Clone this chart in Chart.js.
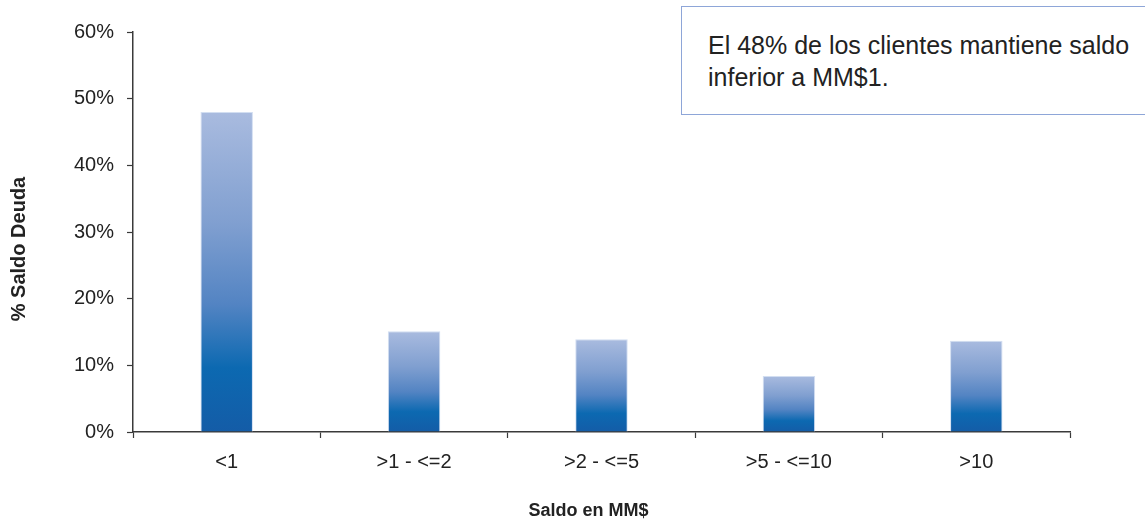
<!DOCTYPE html>
<html>
<head>
<meta charset="utf-8">
<script src="https://cdn.jsdelivr.net/npm/chart.js@4/dist/chart.umd.min.js"></script>
<style>
  html, body { margin: 0; padding: 0; background: #fff; }
  #wrap { position: relative; width: 1145px; height: 523px; overflow: hidden; }
  #c { position: absolute; left: 0; top: 0; }
  #note {
    position: absolute; left: 681px; top: 6px; width: 480px; height: 109px;
    border: 1px solid #8ea6d8; background: #fff; box-sizing: border-box;
    font-family: "Liberation Sans", Arial, sans-serif; font-size: 25px; line-height: 32px;
    color: #222; padding: 22px 0 0 26px;
  }
</style>
</head>
<body>
<div id="wrap">
  <canvas id="c" width="1145" height="523"></canvas>
  <div id="note">El 48% de los clientes mantiene saldo<br>inferior a MM$1.</div>
</div>
<script>
// Distribution of outstanding debt by balance bracket
const categories = ['<1', '>1 - <=2', '>2 - <=5', '>5 - <=10', '>10'];
const debtShare = [48, 15.1, 13.9, 8.4, 13.7];
const yTicks = [0, 10, 20, 30, 40, 50, 60];
const xTitle = 'Saldo en MM$';
const yTitle = '% Saldo Deuda';

const FONT = '"Liberation Sans", Arial, sans-serif';
const AXIS = '#3a3a3a';

// vertical gradient spanning each bar from its top down to the baseline
function barFill(ctx) {
  const chart = ctx.chart;
  if (!chart.chartArea || ctx.type !== 'data') return '#4a7cc0';
  const y = chart.scales.y;
  const top = y.getPixelForValue(ctx.raw);
  const bottom = y.getPixelForValue(0);
  const g = chart.ctx.createLinearGradient(0, top, 0, bottom);
  g.addColorStop(0, '#a9bbdf');
  g.addColorStop(0.35, '#809fd0');
  g.addColorStop(0.6, '#5384c3');
  g.addColorStop(0.8, '#0c69b1');
  g.addColorStop(1, '#145ca7');
  return g;
}

// axis titles, placed slightly off the scale centres
const axisTitles = {
  id: 'axisTitles',
  afterDraw(chart) {
    const c = chart.ctx;
    const area = chart.chartArea;
    c.save();
    c.fillStyle = '#222';
    c.textAlign = 'center';
    c.textBaseline = 'middle';
    c.font = 'bold 18px ' + FONT;
    c.fillText(xTitle, (area.left + area.right) / 2 - 13, 511);
    c.translate(19, (area.top + area.bottom) / 2 + 17);
    c.rotate(-Math.PI / 2);
    c.font = 'bold 20px ' + FONT;
    c.fillText(yTitle, 0, 0);
    c.restore();
  }
};

new Chart(document.getElementById('c'), {
  type: 'bar',
  data: {
    labels: categories,
    datasets: [{
      data: debtShare,
      backgroundColor: barFill,
      borderColor: 'rgba(205,218,240,0.9)',
      borderWidth: { top: 1, left: 1, right: 1, bottom: 0 },
      borderSkipped: 'bottom',
      barPercentage: 0.28,
      categoryPercentage: 1
    }]
  },
  plugins: [axisTitles],
  options: {
    responsive: false,
    animation: false,
    events: [],
    layout: { padding: { top: 32, right: 75, left: 0, bottom: 0 } },
    plugins: { legend: { display: false }, tooltip: { enabled: false } },
    scales: {
      x: {
        grid: {
          display: true, drawOnChartArea: false, offset: true, tickLength: 6,
          tickColor: (c) => c.index === categories.length ? 'rgba(0,0,0,0)' : AXIS,
          tickWidth: 1.2
        },
        border: { display: true, color: AXIS, width: 1.5 },
        ticks: { color: '#222', padding: 12, font: { family: FONT, size: 20 } },
        afterFit: (s) => { s.height = 91; }
      },
      y: {
        min: 0, max: 60,
        afterBuildTicks: (s) => { s.ticks = yTicks.map(v => ({ value: v })); },
        grid: { display: true, drawOnChartArea: false, tickLength: 6, tickColor: AXIS, tickWidth: 1.2 },
        border: { display: true, color: AXIS, width: 1.5 },
        ticks: {
          color: '#222', padding: 13, font: { family: FONT, size: 20 },
          callback: (v) => v + '%'
        },
        afterFit: (s) => { s.width = 133; }
      }
    }
  }
});
</script>
</body>
</html>
